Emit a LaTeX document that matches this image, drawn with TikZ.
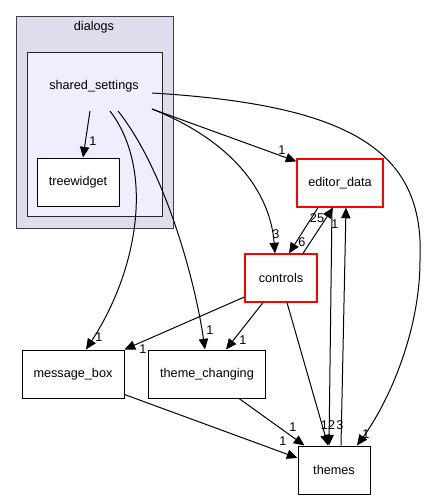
\documentclass[tikz,border=0pt]{standalone}
\usepackage{fontspec}
\setmainfont{Liberation Sans}
\usetikzlibrary{arrows.meta}

\begin{document}
\begin{tikzpicture} [x=0.75pt,y=-0.75pt,
 every node/.style={font=\fontsize{9.5}{11}\selectfont},
 dirbox/.style={rectangle,draw=black,line width=0.75pt,fill=white,minimum height=36pt,inner sep=0pt},
 dirred/.style={rectangle,draw=red,line width=0.9pt,fill=white,minimum height=36pt,inner sep=0pt},
 lbl/.style={inner sep=0pt},
 dep/.style={line width=0.75pt,-{Triangle[length=8pt,width=7pt]}},
]
    \useasboundingbox (0,0) rectangle (428,500);
    \draw[fill={rgb,255:red,221;green,221;blue,238},draw=black!75,line width=0.75pt] (16,16) rectangle (173,228);
    \draw[fill={rgb,255:red,238;green,238;blue,255},draw=black!85,line width=0.75pt] (27,52) rectangle (162,216);
    \node (dialogs) at (94,27) {dialogs};
    \node (shared_settings) at (94,86) {shared\_settings};
    \coordinate (ssA) at (90,111);
    \coordinate (ssB) at (110,111);
    \coordinate (ssC) at (118,111);
    \coordinate (ssD) at (152,109);
    \coordinate (ssE) at (152,93);

    \node[dirbox,minimum width=61.5pt] (treewidget) at (78,182) {treewidget};
    \node[dirred,minimum width=64.5pt] (editor_data) at (340,183) {editor\_data};
    \node[dirred,minimum width=54pt] (controls) at (281,278) {controls};
    \node[dirbox,minimum width=76.5pt] (message_box) at (73,374) {message\_box};
    \node[dirbox,minimum width=87.75pt] (theme_changing) at (207,374) {theme\_changing};
    \node[dirbox,minimum width=54pt] (themes) at (334,470) {themes};

    \draw[dep] (ssA) -- ([xshift=3.75pt]treewidget.north) node[lbl,at={(93,141)}] {1};
    \draw[dep] (ssD) -- ([yshift=-2.25pt]editor_data.north west) node[lbl,at={(282,150)}] {1};
    \draw[dep] (ssD) .. controls (230,140) and (270,190) .. ([xshift=-4.5pt]controls.north) node[lbl,at={(276,234)}] {3};
    \draw[dep] (ssB) .. controls (155,170) and (138,270) .. ([xshift=9.75pt]message_box.north) node[lbl,at={(99,337)}] {1};
    \draw[dep] (ssC) .. controls (165,170) and (195,280) .. ([xshift=-1.5pt]theme_changing.north) node[lbl,at={(210,330)}] {1};
    \draw[dep] (ssE) .. controls (350,105) and (425,150) .. (420,260) .. controls (420,330) and (390,400) .. ([xshift=17.25pt]themes.north) node[lbl,at={(366,434)}] {1};

    \draw[dep] ([xshift=16.5pt]controls.north) -- ([xshift=-5.25pt]editor_data.south) node[lbl,at={(317,218)}] {25};
    \draw[dep] ([xshift=-16.5pt]editor_data.south) -- ([xshift=6pt]controls.north) node[lbl,at={(302,242)}] {6};
    \draw[dep] ([yshift=-14.25pt]controls.west) -- (message_box.north east) node[lbl,at={(143,349)}] {1};
    \draw[dep] ([xshift=-13.5pt]controls.south) -- ([xshift=14.25pt]theme_changing.north) node[lbl,at={(243,340)}] {1};
    \draw[dep] ([xshift=4.5pt]controls.south) -- ([xshift=-4.5pt]themes.north) node[lbl,at={(340,425)}] {3};
    \draw[dep] ([xshift=-6pt]editor_data.south) -- ([xshift=-3.75pt]themes.north) node[lbl,at={(328,425)}] {12};
    \draw[dep] ([xshift=5.25pt]themes.north) -- ([xshift=4.5pt]editor_data.south) node[lbl,at={(335,224)}] {1};
    \draw[dep] ([yshift=3pt]message_box.south east) -- ([yshift=9pt]themes.west) node[lbl,at={(283,441)}] {1};
    \draw[dep] ([xshift=24pt]theme_changing.south) -- ([xshift=5.25pt]themes.north west) node[lbl,at={(293,427)}] {1};
\end{tikzpicture}
\end{document}
